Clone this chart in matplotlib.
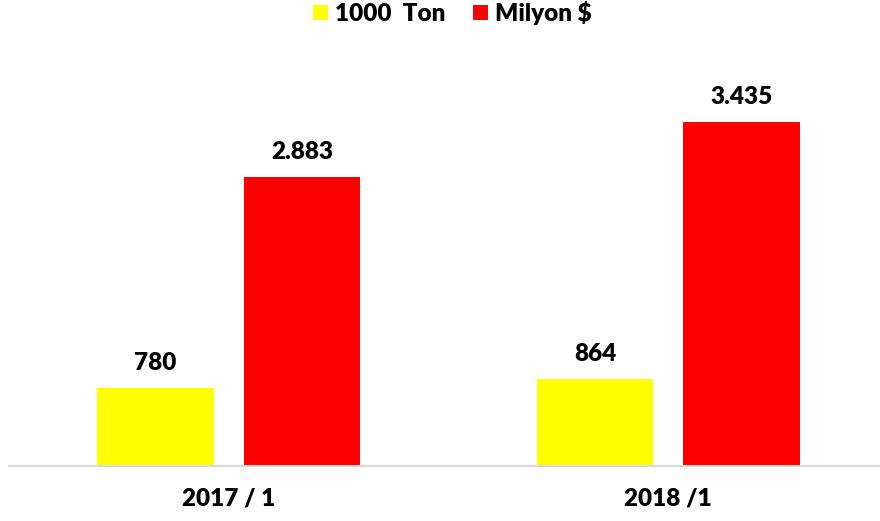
import matplotlib
matplotlib.use("Agg")
import matplotlib.pyplot as plt
import numpy as np

categories = ["2017 / 1", "2018 /1"]
series_names = ["1000  Ton", "Milyon $"]
ton_values = [780, 864]
usd_values = [2883, 3435]
colors = ["#FFFF00", "#FF0000"]

plt.rcParams['font.family'] = ['Lato', 'DejaVu Sans']

fig = plt.figure(figsize=(8.8, 5.21), dpi=100)
left = 9 / 880
bottom = (521 - 465.5) / 521
height = 400 / 521
ax = fig.add_axes([left, bottom, 1 - left, height])

x = np.arange(len(categories))
w = 0.2655
off = 0.1668
b1 = ax.bar(x - off, ton_values, w, color=colors[0], label=series_names[0])
b2 = ax.bar(x + off, usd_values, w, color=colors[1], label=series_names[1])

def fmt(v):
    return f"{v:,}".replace(",", ".")

for bars, vals in ((b1, ton_values), (b2, usd_values)):
    for rect, v in zip(bars, vals):
        ax.annotate(fmt(v), (rect.get_x() + rect.get_width() / 2, rect.get_height()),
                    xytext=(0, 14), textcoords="offset pixels", ha="center", va="bottom",
                    fontsize=17.5, fontweight="heavy", color="black")

span = (880 - 9) / 439.5
ax.set_xlim(-0.5, -0.5 + span)
ax.set_ylim(0, 4000)
for s in ["top", "right", "left"]:
    ax.spines[s].set_visible(False)
ax.spines["bottom"].set_color("#d9d9d9")
ax.spines["bottom"].set_linewidth(1.5)
ax.set_yticks([])
ax.set_xticks(x)
ax.set_xticklabels(categories, fontsize=17.5, fontweight="heavy")
ax.tick_params(axis="x", length=0, pad=16)

leg = fig.legend(handles=[b1, b2], loc="upper center", bbox_to_anchor=(0.514, 1.04), ncol=2,
                 frameon=False, prop={"weight": "heavy", "size": 17.5},
                 handlelength=0.62, handleheight=0.62, handletextpad=0.3, columnspacing=1.1)

fig.savefig("out.png", dpi=100)
